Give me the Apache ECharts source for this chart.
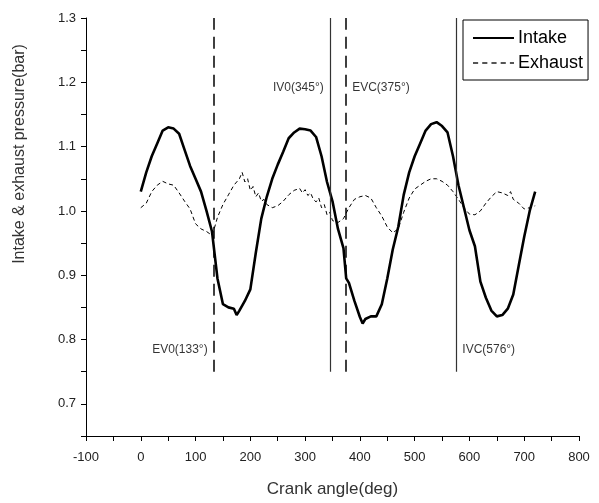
<!DOCTYPE html>
<html>
<head>
<meta charset="utf-8">
<script src="https://cdn.jsdelivr.net/npm/echarts@6/dist/echarts.min.js"></script>
<style>html,body{margin:0;padding:0;background:#fff}#c{width:599px;height:503px}</style>
</head>
<body>
<div id="c"></div>
<script>
var intakeAngle = [0,10,20,30,40,50,60,70,80,90,100,110,120,130,140,150,160,170,175,180,190,200,210,220,230,240,250,260,270,280,290,300,310,320,330,340,350,360,370,375,380,390,400,405,410,420,430,440,450,460,470,480,490,500,510,520,530,540,550,560,570,580,590,600,610,620,630,640,650,660,670,680,690,700,710,720];
var intakeP = [1.030,1.060,1.085,1.105,1.125,1.130,1.128,1.120,1.095,1.070,1.050,1.030,1.000,0.968,0.895,0.855,0.850,0.848,0.838,0.845,0.860,0.878,0.935,0.988,1.022,1.050,1.072,1.092,1.113,1.122,1.128,1.127,1.125,1.115,1.085,1.045,1.015,0.972,0.942,0.895,0.888,0.860,0.835,0.825,0.832,0.836,0.836,0.855,0.895,0.940,0.975,1.025,1.060,1.085,1.105,1.125,1.135,1.138,1.132,1.122,1.085,1.040,1.005,0.970,0.945,0.890,0.865,0.845,0.836,0.838,0.848,0.870,0.915,0.960,1.000,1.030];
var exhaustAngle = [0,10,20,30,40,50,60,70,80,90,100,110,120,130,135,140,150,160,170,180,185,190,195,200,205,210,215,220,225,230,240,250,260,270,280,290,295,300,305,310,315,320,325,330,335,340,345,350,360,370,380,390,400,410,420,430,440,450,460,470,480,490,500,510,520,530,540,550,560,570,580,590,600,610,620,630,640,650,660,670,675,680,690,700,710,720];
var exhaustP = [1.005,1.012,1.030,1.040,1.046,1.042,1.040,1.028,1.015,1.003,0.980,0.972,0.968,0.962,0.975,0.990,1.010,1.025,1.040,1.050,1.060,1.045,1.050,1.032,1.038,1.022,1.028,1.015,1.018,1.010,1.005,1.008,1.015,1.025,1.032,1.035,1.028,1.033,1.024,1.028,1.018,1.014,1.020,1.005,1.010,0.994,0.998,0.985,0.982,0.988,1.005,1.018,1.022,1.024,1.020,1.005,0.992,0.975,0.966,0.972,0.998,1.020,1.034,1.040,1.046,1.050,1.050,1.046,1.040,1.030,1.018,1.005,0.995,0.994,1.000,1.012,1.022,1.030,1.028,1.024,1.030,1.018,1.012,1.003,1.005,1.008];
var eventNames = ['EV0(133°)','IV0(345°)','EVC(375°)','IVC(576°)'];
var eventAngles = [133,345,375,576];
var eventDashed = [true,false,true,false];
var eventLabelP = [0.784,1.192,1.192,0.784];
var eventLabelSide = ['left','left','right','right'];
var lineBottom = 0.75, lineTop = 1.3;

function pairs(a,b){return a.map(function(v,i){return [v,b[i]];});}

var markData = eventAngles.map(function(a,i){
  return [{coord:[a,lineBottom],lineStyle:{type:eventDashed[i]?[12,7]:'solid',color:eventDashed[i]?'#000':'#333',width:eventDashed[i]?1.5:1.2}},{coord:[a,lineTop]}];
});
var labelData = eventAngles.map(function(a,i){
  return {value:[a,eventLabelP[i]],label:{position:eventLabelSide[i],formatter:eventNames[i]}};
});

var solidIcon = 'path://M0,0h40v2h-40z';
var dashIcon = 'path://M0,0h5v2h-5z M9,0h5v2h-5z M18,0h5v2h-5z M27,0h5v2h-5z M36,0h4v2h-4z';

var chart = echarts.init(document.getElementById('c'));
chart.setOption({
  animation:false,
  backgroundColor:'#fff',
  grid:{left:86,right:20,top:18,bottom:65},
  legend:{
    data:[{name:'Intake',icon:solidIcon,itemStyle:{color:'#000'}},{name:'Exhaust',icon:dashIcon,itemStyle:{color:'#555'}}],
    orient:'vertical',left:463,top:20,
    symbolKeepAspect:false,
    borderColor:'#000',borderWidth:1,padding:[9,5,8,10],
    itemWidth:41,itemHeight:2,itemGap:7,
    textStyle:{fontFamily:'Liberation Sans',fontSize:18,color:'#000',padding:[0,0,0,-1]}
  },
  xAxis:{
    type:'value',min:-100,max:800,interval:50,
    name:'Crank angle(deg)',nameLocation:'middle',nameGap:45,
    nameTextStyle:{fontFamily:'Liberation Sans',fontSize:17,color:'#333'},
    axisLine:{onZero:false,lineStyle:{color:'#000',width:1}},
    axisTick:{length:5,lineStyle:{color:'#000'}},
    axisLabel:{fontFamily:'Liberation Sans',fontSize:13,color:'#222',margin:15,
      formatter:function(v){return Math.round(v)%100===0?String(v):'';}},
    splitLine:{show:false}
  },
  yAxis:{
    type:'value',min:0.65,max:1.3,interval:0.05,
    name:'Intake & exhaust pressure(bar)',nameLocation:'middle',nameGap:58,
    nameTextStyle:{fontFamily:'Liberation Sans',fontSize:16,color:'#333',padding:[0,0,0,146]},
    axisLine:{show:true,onZero:false,lineStyle:{color:'#000',width:1}},
    axisTick:{length:5,lineStyle:{color:'#000'}},
    axisLabel:{fontFamily:'Liberation Sans',fontSize:13,color:'#222',margin:10,
      formatter:function(v){var k=Math.round(v*100);return k%10===0?v.toFixed(1):'';}},
    splitLine:{show:false}
  },
  series:[
    {name:'Intake',type:'line',data:pairs(intakeAngle,intakeP),symbol:'none',showSymbol:false,
     lineStyle:{color:'#000',width:2.6},itemStyle:{color:'#000'},z:3},
    {name:'Exhaust',type:'line',data:pairs(exhaustAngle,exhaustP),symbol:'none',showSymbol:false,
     lineStyle:{color:'#000',width:1,type:[4,3]},itemStyle:{color:'#000'},z:2},
    {name:'events',type:'scatter',data:labelData,symbolSize:0,silent:true,
     label:{show:true,fontFamily:'Liberation Sans',fontSize:12,color:'#000',distance:6},
     markLine:{silent:true,symbol:['none','none'],label:{show:false},data:markData}}
  ]
});
</script>
</body>
</html>
